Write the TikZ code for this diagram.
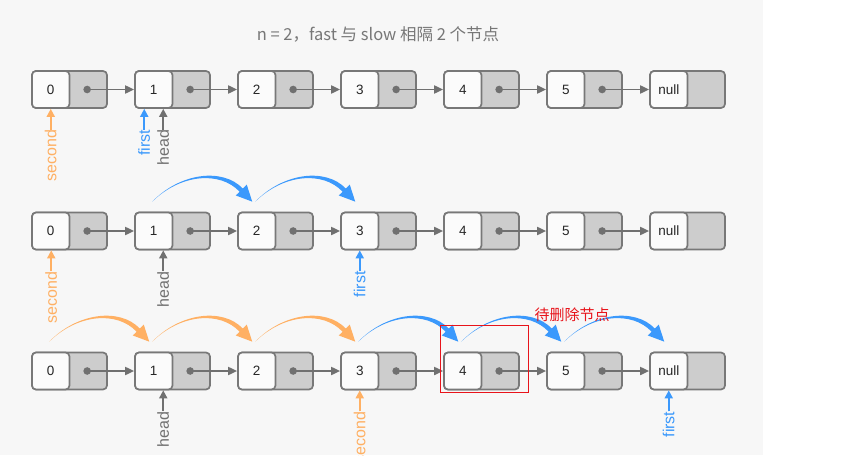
\documentclass[tikz,border=0pt]{standalone}
\usepackage{fontspec}
\setmainfont{Liberation Sans}
\newfontfamily\cjk{Noto Sans CJK SC}
\usetikzlibrary{calc,arrows.meta}
\definecolor{bgc}{HTML}{F7F7F7}
\definecolor{bord}{HTML}{787878}
\definecolor{cellgray}{HTML}{CDCDCD}
\definecolor{valwhite}{HTML}{FBFBFB}
\definecolor{linkc}{HTML}{707070}
\definecolor{orangec}{HTML}{FFB063}
\definecolor{bluec}{HTML}{3B99FC}
\definecolor{titlec}{HTML}{777777}
\definecolor{redc}{HTML}{E8141B}
\tikzset{
  cell/.style={rectangle, rounded corners=4pt, draw=bord, fill=cellgray, line width=1.7pt,
    minimum width=75pt, minimum height=37pt, inner sep=0pt},
  valbox/.style={rectangle, rounded corners=4pt, draw=bord, fill=valwhite, line width=1.7pt,
    minimum width=37.5pt, minimum height=37pt, inner sep=0pt, anchor=west,
    font=\fontsize{13.5}{15}\selectfont, text=black!85},
  link/.style={draw=linkc, line width=1.8pt, -{Triangle[length=9pt,width=8pt]}},
  dotc/.style={fill=linkc},
  ptrlabel/.style={font=\fontsize{16}{19}\selectfont, rotate=90, inner sep=0pt, anchor=east},
  ptrarrow/.style={line width=1.8pt, -{Triangle[length=8pt,width=8pt]}},
}
\newcommand\listrow[2]{%
  \foreach \i in {0,...,5} {
    \node[cell] (#1c\i) at ({69.5+103*\i}, #2) {};
    \node[valbox] (#1v\i) at (#1c\i.west) {\i};
  }
  \node[cell] (#1c6) at (687.5, #2) {};
  \node[valbox] (#1v6) at (#1c6.west) {null};
  \foreach \i [evaluate=\i as \j using int(\i+1)] in {0,...,5} {
    \coordinate (#1d\i) at ($(#1c\i.west)+(56,0)$);
    \fill[dotc] (#1d\i) circle (3.8);
    \draw[link] (#1d\i) -- (#1v\j.west);
  }
}
% pointer label: name, value node, x offset, text, colour
\newcommand\ptr[5]{%
  \node[ptrlabel, text=#5] (#1) at ([xshift=#3pt, yshift=-21pt]#2.south) {#4};
  \draw[ptrarrow, draw=#5, fill=#5] (#1.east) -- (#1.east |- #2.south);
}
% hop arc: from value node, colour
\newcommand\hop[2]{%
  \begin{scope}[shift={($(#1.north)+(-1.5,-10)$)}]
    \fill[#2] (0,0) .. controls (28,-29) and (70.4,-34.2) .. (90.6,-13.1)
      -- (94.5,-17) -- (100,0) -- (83.5,-6.2) -- (87.4,-9.9)
      .. controls (67.6,-31.1) and (28,-27.5) .. (0,0) -- cycle;
  \end{scope}
}
\begin{document}
\begin{tikzpicture}[x=1pt,y=-1pt]
\useasboundingbox (0,0) rectangle (856,455);
\fill[white] (0,0) rectangle (856,455);
\fill[bgc] (0,0) rectangle (763,455);

\node[text=titlec, font=\cjk\fontsize{16.5}{19}\selectfont] (title) at (378,34) {n = 2，fast 与 slow 相隔 2 个节点};

% row 1
\listrow{a}{89.5}
\ptr{asec}{av0}{0}{second}{orangec}
\ptr{afir}{av1}{-9.5}{first}{bluec}
\ptr{ahead}{av1}{9.5}{head}{linkc}

% row 2
\listrow{b}{231}
\hop{bv1}{bluec}
\hop{bv2}{bluec}
\ptr{bsec}{bv0}{0.5}{second}{orangec}
\ptr{bhead}{bv1}{9.5}{head}{linkc}
\ptr{bfir}{bv3}{0}{first}{bluec}

% row 3
\listrow{c}{371}
\hop{cv0}{orangec}
\hop{cv1}{orangec}
\hop{cv2}{orangec}
\hop{cv3}{bluec}
\hop{cv4}{bluec}
\hop{cv5}{bluec}
\ptr{chead}{cv1}{9.5}{head}{linkc}
\ptr{csec}{cv3}{0}{second}{orangec}
\ptr{cfir}{cv6}{0}{first}{bluec}

\node[draw=redc, line width=1pt, minimum width=88pt, minimum height=67pt, inner sep=0pt] (del) at (484,358.5) {};
\node[text=redc, font=\cjk\fontsize{15}{18}\selectfont, inner sep=0pt] (dellab) at (572,315) {待删除节点};
\end{tikzpicture}
\end{document}
